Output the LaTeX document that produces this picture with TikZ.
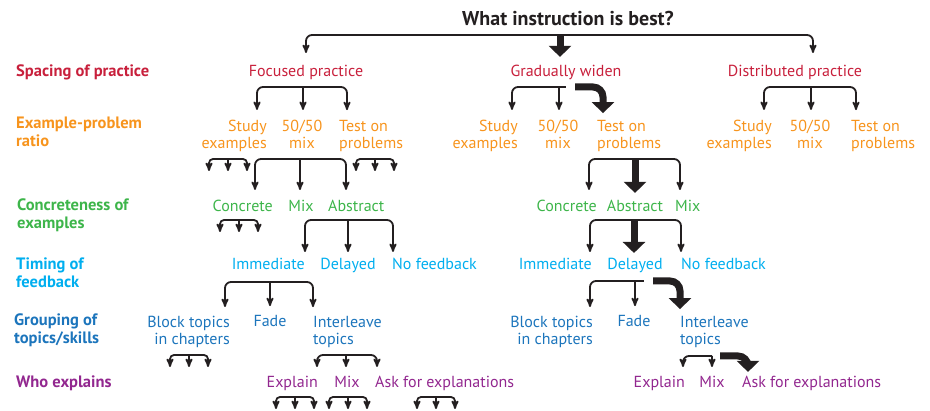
\documentclass[tikz,border=0pt]{standalone}
\usepackage{fontspec}
\setmainfont{PT Sans}
\usepackage{tikz}
\usetikzlibrary{arrows,arrows.meta}

\definecolor{spacered}{RGB}{200,32,60}
\definecolor{ratioorange}{RGB}{247,148,29}
\definecolor{concgreen}{RGB}{61,181,74}
\definecolor{timecyan}{RGB}{0,174,239}
\definecolor{groupblue}{RGB}{28,117,188}
\definecolor{whopurple}{RGB}{146,39,143}
\definecolor{inkblack}{RGB}{35,31,32}

\tikzset{stub/.pic={
  \draw[twig,shorten >=0pt,rounded corners=4pt] (0,0) -| (-19,12);
  \draw[twig,shorten >=0pt] (0,0) -- (0,12);
  \draw[twig,shorten >=0pt,rounded corners=4pt] (0,0) -| (19,12);
}}

\begin{document}
\begin{tikzpicture}[x=1pt,y=-1pt]
\tikzstyle{every node}=[inner sep=0pt]
\tikzstyle{lab}=[anchor=base west,align=left,font=\bfseries\fontsize{16.5}{18}\selectfont]
\tikzstyle{twig}=[->,>=stealth',line width=1.8pt,rounded corners=6pt,draw=inkblack,shorten >=9.5pt]
\tikzstyle{best}=[-{Triangle[width=22pt,length=11pt]},line width=7pt,rounded corners=10pt,draw=inkblack,shorten >=7.5pt]
\tikzset{font=\fontsize{16}{17}\selectfont}

\useasboundingbox (0,0) rectangle (930,411);

        \node[anchor=base,font=\bfseries\fontsize{20}{22}\selectfont,text=inkblack] (title) at (568,26) {What instruction is best?};

        % row labels
        \node[lab,text=spacered]    (spacing)  at (16,77)  {Spacing of practice};
        \node[lab,text=ratioorange] (ratio)    at (16,147) {Example-problem\\ratio};
        \node[lab,text=concgreen]   (concrete) at (17,229) {Concreteness of\\examples};
        \node[lab,text=timecyan]    (timing)   at (16,288) {Timing of\\feedback};
        \node[lab,text=groupblue]   (grouping) at (14,344) {Grouping of\\topics/skills};
        \node[lab,text=whopurple]   (who)      at (16,388) {Who explains};

        % spacing of practice
        \node[anchor=base,text=spacered] (fp) at (306,77) {Focused practice};
        \node[anchor=base,text=spacered] (gw) at (566,77) {Gradually widen};
        \node[anchor=base,text=spacered] (dp) at (795,77) {Distributed practice};

        % example-problem ratio
        \node[anchor=base east,align=right,text=ratioorange] (fpS) at (267,149) {Study\\examples};
        \node[anchor=base,align=center,text=ratioorange]     (fpM) at (302,149) {50/50\\mix};
        \node[anchor=base west,align=left,text=ratioorange]  (fpT) at (339,149) {Test on\\problems};
        \node[anchor=base east,align=right,text=ratioorange] (gwS) at (518,149) {Study\\examples};
        \node[anchor=base,align=center,text=ratioorange]     (gwM) at (558,149) {50/50\\mix};
        \node[anchor=base west,align=left,text=ratioorange]  (gwT) at (597,149) {Test on\\problems};
        \node[anchor=base east,align=right,text=ratioorange] (dpS) at (772,149) {Study\\examples};
        \node[anchor=base,align=center,text=ratioorange]     (dpM) at (810,149) {50/50\\mix};
        \node[anchor=base west,align=left,text=ratioorange]  (dpT) at (851,149) {Test on\\problems};

        % concreteness of examples
        \node[anchor=base east,text=concgreen] (fcC) at (273,212) {Concrete};
        \node[anchor=base,text=concgreen]      (fcM) at (301,212) {Mix};
        \node[anchor=base west,text=concgreen] (fcA) at (328,212) {Abstract};
        \node[anchor=base east,text=concgreen] (gcC) at (597,212) {Concrete};
        \node[anchor=base,text=concgreen]      (gcA) at (635,212) {Abstract};
        \node[anchor=base west,text=concgreen] (gcM) at (675,212) {Mix};

        % timing of feedback
        \node[anchor=base east,text=timecyan] (fiI) at (305,270) {Immediate};
        \node[anchor=base,text=timecyan]      (fiD) at (348,270) {Delayed};
        \node[anchor=base west,text=timecyan] (fiN) at (392,270) {No feedback};
        \node[anchor=base east,text=timecyan] (giI) at (592,270) {Immediate};
        \node[anchor=base,text=timecyan]      (giD) at (635,270) {Delayed};
        \node[anchor=base west,text=timecyan] (giN) at (681,270) {No feedback};

        % grouping of topics
        \node[anchor=base east,align=right,text=groupblue] (fgB) at (230,345) {Block topics\\in chapters};
        \node[anchor=base,text=groupblue]                  (fgF) at (270,327) {Fade};
        \node[anchor=base west,align=left,text=groupblue]  (fgI) at (313,345) {Interleave\\topics};
        \node[anchor=base east,align=right,text=groupblue] (ggB) at (593,345) {Block topics\\in chapters};
        \node[anchor=base,text=groupblue]                  (ggF) at (634,327) {Fade};
        \node[anchor=base west,align=left,text=groupblue]  (ggI) at (680,345) {Interleave\\topics};

        % who explains
        \node[anchor=base east,text=whopurple] (feE) at (318,388) {Explain};
        \node[anchor=base,text=whopurple]      (feM) at (347,388) {Mix};
        \node[anchor=base west,text=whopurple] (feA) at (375,388) {Ask for explanations};
        \node[anchor=base east,text=whopurple] (geE) at (685,388) {Explain};
        \node[anchor=base,text=whopurple]      (geM) at (712,388) {Mix};
        \node[anchor=base west,text=whopurple] (geA) at (742,388) {Ask for explanations};

        % branch points
        \coordinate (top) at (560,35);
        \coordinate (fpb) at (303,87);
        \coordinate (gwb) at (559,87);
        \coordinate (gwk) at (575,87);
        \coordinate (dpb) at (811,87);
        \coordinate (fmb) at (300,159);
        \coordinate (gtb) at (635,159);
        \coordinate (fab) at (348,220);
        \coordinate (gab) at (634,220);
        \coordinate (fib) at (270,282);
        \coordinate (gdb) at (635,281);
        \coordinate (gdk) at (653,281);
        \coordinate (fgb) at (346,355);
        \coordinate (gib) at (712,356);
        \coordinate (gik) at (720,356);

        \draw[twig,shorten >=12.5pt] (top) -| (fp.north);
        \draw[twig,shorten >=12.5pt] (top) -| ([xshift=18pt]dp.north);
        \draw[best,shorten >=8.5pt] (top) -- (top |- gw.north);

        \draw[twig,shorten >=10.5pt] (fpb) -| ([xshift=-10pt]fpS.north east);
        \draw[twig,shorten >=10.5pt] (fpb) -- (fpb |- fpM.north);
        \draw[twig,shorten >=10.5pt] (fpb) -| ([xshift=8pt]fpT.north west);
        \draw[twig,shorten >=10.5pt] (gwb) -| ([xshift=-6pt]gwS.north east);
        \draw[twig,shorten >=10.5pt] (gwb) -- (gwb |- gwM.north);
        \draw[twig,-] (gwb) -- (gwk);
        \draw[best] (gwk) -| ([xshift=6pt]gwT.north west);
        \draw[twig,shorten >=10.5pt] (dpb) -| ([xshift=-8pt]dpS.north east);
        \draw[twig,shorten >=10.5pt] (dpb) -- (dpb |- dpM.north);
        \draw[twig,shorten >=10.5pt] (dpb) -| ([xshift=5pt]dpT.north west);

        \draw[twig,shorten >=10.5pt] (fmb) -| ([xshift=-18pt]fcC.north east);
        \draw[twig,shorten >=10.5pt] (fmb) -- (fmb |- fcM.north);
        \draw[twig,shorten >=10.5pt] (fmb) -| ([xshift=18pt]fcA.north west);
        \draw[twig,shorten >=10.5pt] (gtb) -| ([xshift=-8pt]gcC.north east);
        \draw[best] (gtb) -- (gtb |- gcA.north);
        \draw[twig,shorten >=10.5pt] (gtb) -| ([xshift=5pt]gcM.north west);

        \draw[twig,shorten >=6.5pt] (fab) -| (fiI.north east);
        \draw[twig,shorten >=6.5pt] (fab) -- (fab |- fiD.north);
        \draw[twig,shorten >=6.5pt] (fab) -| ([xshift=1pt]fiN.north west);
        \draw[twig,shorten >=6.5pt] (gab) -| ([xshift=-2pt]giI.north east);
        \draw[best,shorten >=5.5pt] (gab) -- (gab |- giD.north);
        \draw[twig,shorten >=6.5pt] (gab) -| (giN.north west);

        \draw[twig] (fib) -| ([xshift=-5pt]fgB.north east);
        \draw[twig] (fib) -- (fib |- fgF.north);
        \draw[twig] (fib) -| (fgI.north west);
        \draw[twig] (gdb) -| ([xshift=-3pt]ggB.north east);
        \draw[twig] (gdb) -- (gdb |- ggF.north);
        \draw[twig,-] (gdb) -- (gdk);
        \draw[best] (gdk) -| (ggI.north west);

        \draw[twig] (fgb) -| ([xshift=-1pt]feE.north east);
        \draw[twig] (fgb) -- (fgb |- feM.north);
        \draw[twig] (fgb) -| ([xshift=2pt]feA.north west);
        \draw[twig] (gib) -| ([xshift=-2pt]geE.north east);
        \draw[twig] (gib) -- (gib |- geM.north);
        \draw[twig,-] (gib) -- (gik);
        \draw[best,shorten >=4.5pt] (gik) -| ([xshift=6pt]geA.north west);

        % branches that are not followed
        \pic at (228,159) {stub};
        \pic at (375,159) {stub};
        \pic at (239,220) {stub};
        \pic at (189,355) {stub};
        \pic at (295,397) {stub};
        \pic at (348,397) {stub};
        \pic at (436,397) {stub};

\end{tikzpicture}
\end{document}
